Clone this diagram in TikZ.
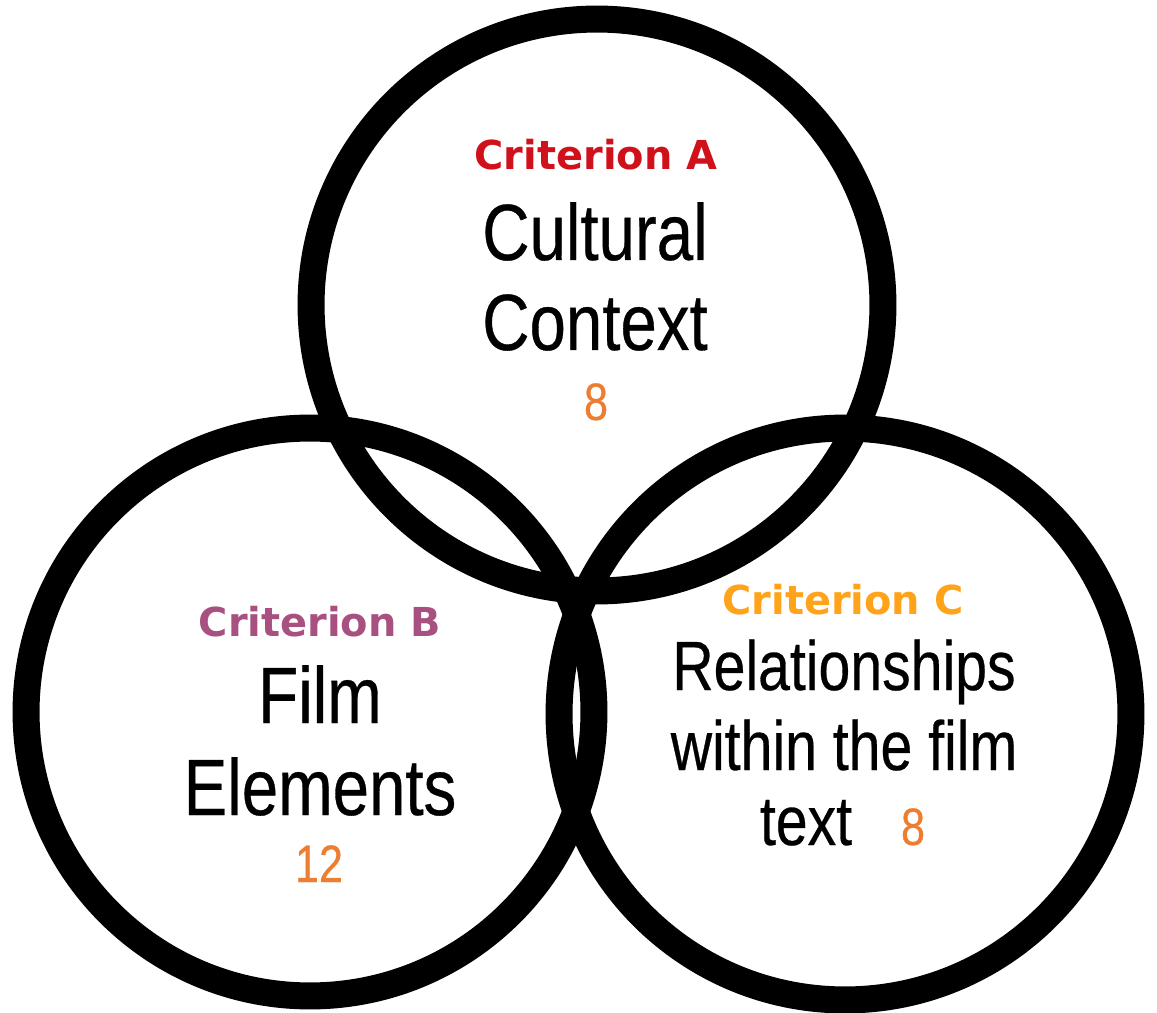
\documentclass[tikz,border=0pt]{standalone}
\usepackage{fontspec}
\newfontfamily\bodyfont[FakeStretch=0.82,FakeBold=0.4]{Liberation Sans}
\newfontfamily\critfont{DejaVu Sans}
\definecolor{critA}{HTML}{D0111B}
\definecolor{critB}{HTML}{A8507F}
\definecolor{critC}{HTML}{FFA31A}
\definecolor{score}{HTML}{ED7D31}
\begin{document}
\begin{tikzpicture}[x=0.02cm,y=-0.02cm,
  ring/.style={circle,draw=black,line width=0.54cm,inner sep=0pt,minimum size=#1},
  crit/.style={anchor=base,inner sep=0pt,font=\critfont\bfseries\fontsize{22.7pt}{26pt}\selectfont},
  bodybig/.style={anchor=base,inner sep=0pt,font=\bodyfont\fontsize{45.4pt}{50pt}\selectfont},
  bodysmall/.style={anchor=base,inner sep=0pt,font=\bodyfont\fontsize{39.7pt}{44pt}\selectfont},
  num/.style={anchor=base,inner sep=0pt,text=score,font=\bodyfont\fontsize{30pt}{34pt}\selectfont}]
\useasboundingbox (0,0) rectangle (1157,1013);

% the three overlapping rings
\node[ring=11.44cm] (ringA) at (597,305) {};
\node[ring=11.36cm] (ringB) at (310,712) {};
\node[ring=11.44cm] (ringC) at (845,714) {};

% Criterion A
\node[crit,text=critA] (labA) at (596,170) {Criterion A};
\node[bodybig] (a1) at (595,260) {Cultural};
\node[bodybig] (a2) at (595,350) {Context};
\node[num] (nA) at (596,420) {8};

% Criterion B
\node[crit,text=critB] (labB) at (320,637) {Criterion B};
\node[bodybig] (b1) at (320,723) {Film};
\node[bodybig] (b2) at (320,815) {Elements};
\node[num] (nB) at (319,882) {12};

% Criterion C
\node[crit,text=critC] (labC) at (843,615) {Criterion C};
\node[bodysmall] (c1) at (844,690) {Relationships};
\node[bodysmall] (c2) at (844,770) {within the film};
\node[bodysmall] (c3) at (806,845) {text};
\node[num] (nC) at (913,845) {8};
\end{tikzpicture}
\end{document}
